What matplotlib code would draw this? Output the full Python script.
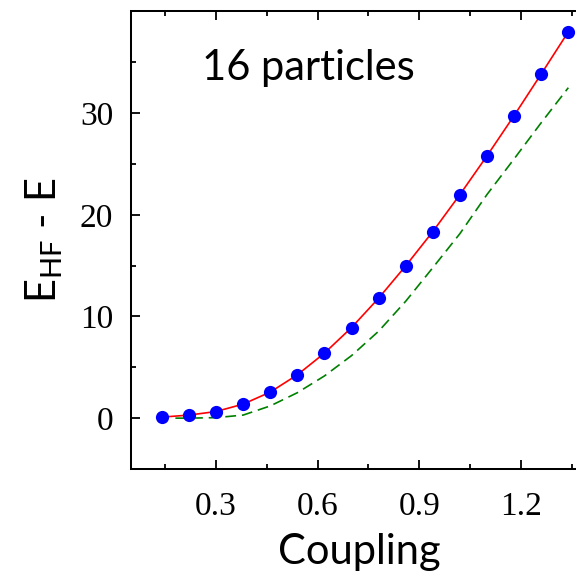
import numpy as np
import matplotlib
matplotlib.use('Agg')
import matplotlib.pyplot as plt
from matplotlib.ticker import MultipleLocator

# data
coupling = [0.14, 0.22, 0.30, 0.38, 0.46, 0.54, 0.62, 0.70,
            0.78, 0.86, 0.94, 1.02, 1.10, 1.18, 1.26, 1.34]
energy = [0.1, 0.3, 0.65, 1.38, 2.56, 4.26, 6.39, 8.91,
          11.8, 14.98, 18.35, 21.99, 25.8, 29.76, 33.85, 38.0]

# green dashed curve
approx_x = [0.18, 0.22, 0.30, 0.38, 0.46, 0.54, 0.62, 0.70,
            0.78, 0.86, 0.94, 1.02, 1.10, 1.18, 1.26, 1.34]
approx_y = [0.0, 0.0, 0.05, 0.3, 1.2, 2.5, 4.15, 6.15,
            8.55, 11.5, 14.8, 18.15, 22.0, 25.5, 29.06, 32.5]

xticks = [0.3, 0.6, 0.9, 1.2]
yticks = [0, 10, 20, 30]

plt.rcParams['mathtext.default'] = 'regular'

fig = plt.figure(figsize=(5.76, 5.77), dpi=100)
ax = fig.add_axes([0.228, 0.1872, 0.794, 0.793])

ax.plot(approx_x, approx_y, color='#008000', lw=1.2, ls=(0, (6.5, 3.5)))
ax.plot(coupling, energy, color='#ff0000', lw=1.2)
ax.plot(coupling, energy, 'o', color='#0000ff', ms=9.5, mec='none')

ax.set_xlim(0.05, 1.40)
ax.set_ylim(-5, 40)
ax.set_xticks(xticks)
ax.set_yticks(yticks)
ax.xaxis.set_minor_locator(MultipleLocator(0.15))
ax.yaxis.set_minor_locator(MultipleLocator(5))

for lab in ax.get_xticklabels() + ax.get_yticklabels():
    lab.set_fontfamily('Liberation Serif')
    lab.set_fontsize(24)

ax.tick_params(which='both', direction='in', top=True, right=True, width=1.3)
ax.tick_params(which='major', length=6.5)
ax.tick_params(which='minor', length=3.4)
ax.tick_params(axis='x', pad=16)
ax.tick_params(axis='y', pad=13)
for s in ax.spines.values():
    s.set_linewidth(1.45)

ax.set_xlabel('Coupling', fontfamily='Lato', fontsize=30)
ax.xaxis.set_label_coords(0.498, -0.14)
ax.set_ylabel('E$_{HF}$ - E', fontfamily='Lato', fontsize=30)
ax.yaxis.set_label_coords(-0.145, 0.5)

ax.text(0.154, 0.850, '16 particles', transform=ax.transAxes,
        fontfamily='Lato', fontsize=30, va='baseline')

fig.savefig('out.png', dpi=100)
